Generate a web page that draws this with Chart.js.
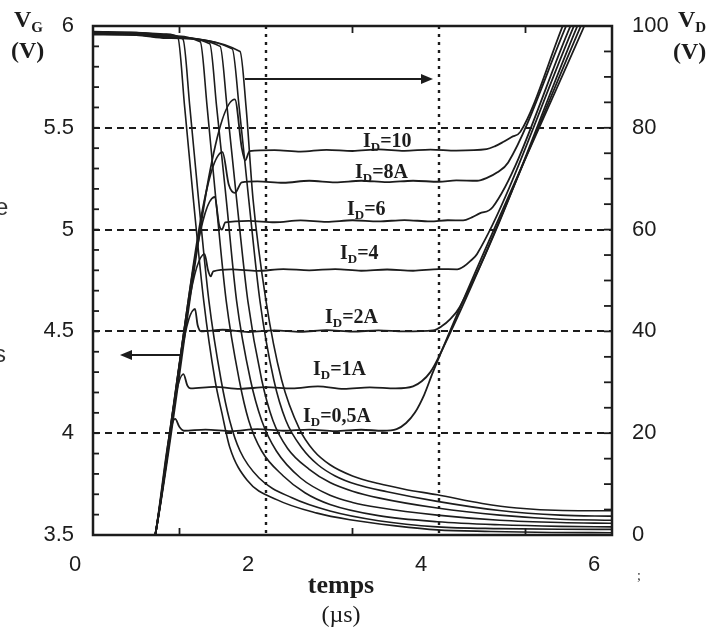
<!DOCTYPE html>
<html>
<head>
<meta charset="utf-8">
<script src="https://cdn.jsdelivr.net/npm/chart.js@4.4.1/dist/chart.umd.min.js"></script>
<style>
  html, body { margin: 0; padding: 0; background: #fff; }
  canvas { display: block; }
</style>
</head>
<body>
<canvas id="chart" width="724" height="633"></canvas>
<script>
// Valeurs (temps en µs, VG en V, VD en V)
const timeTicks = [0, 2, 4, 6];
const vgTicks = [3.5, 4, 4.5, 5, 5.5, 6];
const vdTicks = [0, 20, 40, 60, 80, 100];
const gridVG = [4, 4.5, 5, 5.5];
const gridTime = [2, 4];
const idLabels = ['=10', '=8A', '=6', '=4', '=2A', '=1A', '=0,5A'];

// Tension de grille VG
const vg05 = [[0.72,3.5],[0.95,4.07],[1.0,4.03],[1.05,4.012],[1.3,4.018],[1.6,4.01],[1.9,4.02],[2.2,4.012],[2.5,4.018],[2.8,4.01],[3.1,4.017],[3.35,4.012],[3.51,4.02],[3.62,4.05],[3.72,4.10],[3.83,4.19],[3.93,4.30],[5.68,6.0]];
const vg1  = [[0.72,3.5],[1.046,4.29],[1.09,4.235],[1.13,4.22],[1.4,4.228],[1.7,4.218],[2.0,4.226],[2.3,4.22],[2.6,4.23],[2.9,4.218],[3.2,4.225],[3.5,4.22],[3.70,4.23],[3.80,4.255],[3.90,4.30],[3.98,4.36],[5.64,6.0]];
const vg2  = [[0.72,3.5],[1.179,4.61],[1.21,4.53],[1.25,4.5],[1.5,4.508],[1.8,4.497],[2.1,4.505],[2.4,4.498],[2.7,4.506],[3.0,4.499],[3.3,4.505],[3.6,4.5],[3.93,4.505],[4.03,4.525],[4.13,4.56],[4.24,4.62],[5.60,6.0]];
const vg4  = [[0.72,3.5],[1.29,4.88],[1.33,4.80],[1.36,4.77],[1.39,4.795],[1.6,4.805],[1.9,4.797],[2.2,4.806],[2.5,4.8],[2.8,4.806],[3.1,4.798],[3.4,4.804],[3.7,4.798],[4.0,4.806],[4.21,4.805],[4.29,4.82],[4.36,4.845],[4.44,4.88],[5.56,6.0]];
const vg6  = [[0.72,3.5],[1.406,5.16],[1.46,5.02],[1.49,5.0],[1.53,5.035],[1.8,5.043],[2.1,5.036],[2.4,5.045],[2.7,5.038],[3.0,5.046],[3.3,5.04],[3.6,5.047],[3.9,5.04],[4.1,5.046],[4.28,5.045],[4.38,5.06],[4.47,5.08],[4.62,5.11],[5.52,6.0]];
const vg8  = [[0.72,3.5],[1.497,5.38],[1.57,5.22],[1.64,5.18],[1.72,5.232],[1.9,5.237],[2.2,5.23],[2.5,5.24],[2.8,5.232],[3.1,5.24],[3.4,5.233],[3.7,5.24],[4.0,5.235],[4.2,5.242],[4.44,5.24],[4.56,5.255],[4.67,5.28],[4.80,5.33],[5.47,6.0]];
const vg10 = [[0.72,3.5],[1.64,5.64],[1.72,5.40],[1.76,5.34],[1.81,5.385],[2.1,5.39],[2.4,5.383],[2.7,5.392],[3.0,5.386],[3.3,5.394],[3.6,5.387],[3.9,5.393],[4.2,5.388],[4.55,5.395],[4.65,5.41],[4.74,5.43],[4.84,5.455],[4.94,5.48],[5.43,6.0]];

// Tension de drain VD
const vd05 = [[0,98.8],[0.5,98.7],[0.85,98.4],[0.98,97.8],[1.06,84],[1.16,66],[1.28,46],[1.41,30.5],[1.49,24],[1.58,17.3],[1.78,10.8],[2.13,6.9],[2.59,4.3],[2.97,3.0],[3.5,1.8],[3.98,1.0],[4.6,0.7],[5.3,0.5],[6.0,0.45]];
const vd1  = [[0,98.9],[0.5,98.7],[0.85,98.3],[1.04,97.4],[1.12,84],[1.22,66],[1.34,46],[1.48,30.5],[1.58,22.5],[1.7,16.5],[1.92,11.2],[2.3,7.3],[2.74,4.7],[3.3,2.8],[3.98,1.6],[4.7,1.25],[5.4,1.12],[6.0,1.1]];
const vd2  = [[0,98.7],[0.5,98.6],[0.85,98.1],[1.24,96.9],[1.32,84],[1.42,66],[1.54,46],[1.69,30.5],[1.8,22.5],[1.95,16.5],[2.2,11.6],[2.45,8.3],[2.74,6.0],[3.3,3.8],[3.98,2.6],[4.7,2.0],[5.4,1.7],[6.0,1.6]];
const vd4  = [[0,98.6],[0.5,98.5],[0.85,97.9],[1.35,96.5],[1.43,84],[1.54,66],[1.66,46],[1.82,30.5],[1.95,22.5],[2.12,16.5],[2.4,11.2],[2.74,7.8],[3.0,6.4],[3.3,5.4],[3.98,3.9],[4.7,2.9],[5.4,2.45],[6.0,2.3]];
const vd6  = [[0,98.5],[0.5,98.4],[0.85,97.8],[1.47,96.0],[1.55,84],[1.66,66],[1.79,46],[1.95,30.5],[2.08,22.5],[2.25,17],[2.5,12.9],[2.74,10.3],[3.0,8.6],[3.3,7.3],[3.98,5.3],[4.7,3.9],[5.4,3.1],[6.0,2.9]];
const vd8  = [[0,98.4],[0.5,98.3],[0.85,97.7],[1.61,95.5],[1.69,84],[1.8,66],[1.93,46],[2.09,30.5],[2.23,22.5],[2.42,17],[2.6,13.8],[2.8,11.6],[3.05,9.9],[3.4,8.5],[3.98,6.6],[4.7,4.8],[5.4,3.9],[6.0,3.7]];
const vd10 = [[0,98.3],[0.5,98.2],[0.85,97.6],[1.70,95],[1.77,84],[1.85,66],[2.0,46],[2.18,30.5],[2.39,20.7],[2.55,16.6],[2.74,13.8],[3.0,11.6],[3.3,10.1],[3.6,9.0],[3.98,7.9],[4.5,6.2],[4.9,5.3],[5.43,4.8],[6.0,4.75]];

const INK = '#1c1c1c';
const SERIF = '"Liberation Serif", "Times New Roman", serif';
const SANS = '"Liberation Sans", Arial, sans-serif';

function toPoints(arr) {
    return arr.map(p => ({ x: p[0], y: p[1] }));
}

function curve(arr, axis, width) {
    return {
        data: toPoints(arr),
        yAxisID: axis,
        borderColor: INK,
        borderWidth: width,
        pointRadius: 0,
        cubicInterpolationMode: 'monotone',
        fill: false
    };
}

function line(ctx, x1, y1, x2, y2) {
    ctx.beginPath();
    ctx.moveTo(x1, y1);
    ctx.lineTo(x2, y2);
    ctx.stroke();
}

// Flèche horizontale (pointe à x2)
function arrow(ctx, x1, x2, y) {
    const dir = Math.sign(x2 - x1);
    ctx.lineWidth = 1.8;
    line(ctx, x1, y, x2 - dir * 10, y);
    ctx.beginPath();
    ctx.moveTo(x2, y);
    ctx.lineTo(x2 - dir * 12, y - 5);
    ctx.lineTo(x2 - dir * 12, y + 5);
    ctx.closePath();
    ctx.fill();
}

// Texte avec indice (I_D, V_G ...)
function subText(ctx, x, y, main, sub, rest, size, subSize) {
    ctx.font = `bold ${size}px ${SERIF}`;
    ctx.fillText(main, x, y);
    let cx = x + ctx.measureText(main).width;
    ctx.font = `bold ${subSize}px ${SERIF}`;
    ctx.fillText(sub, cx, y + Math.round(size * 0.2));
    cx += ctx.measureText(sub).width;
    if (rest) {
        ctx.font = `bold ${size}px ${SERIF}`;
        ctx.fillText(rest, cx, y);
    }
}

const bgPlugin = {
    id: 'bg',
    beforeDraw(chart) {
        const ctx = chart.ctx;
        ctx.save();
        ctx.fillStyle = '#fff';
        ctx.fillRect(0, 0, chart.width, chart.height);
        ctx.restore();
    }
};

// Grille pointillée, cadre, graduations internes, flèches et légendes
const framePlugin = {
    id: 'frame',
    beforeDatasetsDraw(chart) {
        const { ctx, chartArea: a, scales } = chart;
        ctx.save();
        ctx.strokeStyle = INK;
        ctx.lineWidth = 1.8;
        ctx.setLineDash([7, 5]);
        gridVG.forEach(v => {
            const py = Math.round(scales.yG.getPixelForValue(v));
            line(ctx, a.left, py, a.right, py);
        });
        ctx.lineWidth = 2.4;
        ctx.setLineDash([3, 5]);
        gridTime.forEach(v => {
            const px = Math.round(scales.x.getPixelForValue(v));
            line(ctx, px, a.top, px, a.bottom);
        });
        ctx.restore();
    },
    afterDatasetsDraw(chart) {
        const { ctx, chartArea: a, scales } = chart;
        ctx.save();
        ctx.strokeStyle = INK;
        ctx.fillStyle = INK;

        // graduations vers l'intérieur
        ctx.lineWidth = 1.8;
        for (let i = 1; i < 25; i++) {
            const py = scales.yG.getPixelForValue(3.5 + i * 0.1);
            line(ctx, a.left, py, a.left + 6, py);
        }
        for (let v = 5; v < 100; v += 5) {
            const py = scales.yD.getPixelForValue(v);
            line(ctx, a.right - 8, py, a.right, py);
        }
        [1, 3, 5].forEach(v => {
            const px = scales.x.getPixelForValue(v);
            line(ctx, px, a.bottom, px, a.bottom - 7);
            line(ctx, px, a.top, px, a.top + 7);
        });

        // cadre
        ctx.lineWidth = 2.5;
        ctx.strokeRect(a.left, a.top, a.right - a.left, a.bottom - a.top);

        // flèches
        arrow(ctx, 245, 433, 79);
        arrow(ctx, 182, 120, 355);

        // étiquettes des courants
        ctx.textBaseline = 'alphabetic';
        ctx.textAlign = 'left';
        const idPos = [[363, 147], [355, 178], [347, 215], [340, 259], [325, 323], [313, 375], [303, 422]];
        idLabels.forEach((txt, i) => {
            subText(ctx, idPos[i][0], idPos[i][1], 'I', 'D', txt, 20, 13);
        });

        // titres des axes
        subText(ctx, 14, 27, 'V', 'G', '', 24, 15);
        ctx.font = `bold 24px ${SERIF}`;
        ctx.fillText('(V)', 11, 58);
        subText(ctx, 678, 27, 'V', 'D', '', 24, 15);
        ctx.font = `bold 24px ${SERIF}`;
        ctx.fillText('(V)', 673, 59);

        ctx.textAlign = 'center';
        ctx.font = `bold 26px ${SERIF}`;
        ctx.fillText('temps', 341, 593);
        ctx.font = `24px ${SERIF}`;
        ctx.fillText('(µs)', 341, 622);

        // restes du texte de la page
        ctx.textAlign = 'left';
        ctx.fillStyle = '#333';
        ctx.font = `24px ${SANS}`;
        ctx.fillText('e', -5, 215);
        ctx.fillText('s', -6, 362);
        ctx.font = `14px ${SERIF}`;
        ctx.fillText(';', 637, 580);
        ctx.restore();
    }
};

const tickFont = { family: SANS, size: 22 };
const plainLabel = v => String(v);

new Chart(document.getElementById('chart').getContext('2d'), {
    type: 'line',
    data: {
        datasets: [
            curve(vd05, 'yD', 1.6), curve(vd1, 'yD', 1.6), curve(vd2, 'yD', 1.6), curve(vd4, 'yD', 1.6),
            curve(vd6, 'yD', 1.6), curve(vd8, 'yD', 1.6), curve(vd10, 'yD', 1.6),
            curve(vg05, 'yG', 1.8), curve(vg1, 'yG', 1.8), curve(vg2, 'yG', 1.8), curve(vg4, 'yG', 1.8),
            curve(vg6, 'yG', 1.8), curve(vg8, 'yG', 1.8), curve(vg10, 'yG', 1.8)
        ]
    },
    options: {
        responsive: false,
        animation: false,
        layout: { padding: { top: 26, left: 0, right: 0, bottom: 0 } },
        plugins: { legend: { display: false }, tooltip: { enabled: false } },
        scales: {
            x: {
                type: 'linear',
                min: 0,
                max: 6,
                grid: { display: false },
                border: { display: false },
                afterBuildTicks: s => { s.ticks = timeTicks.map(v => ({ value: v })); },
                afterFit: s => { s.height = 98; },
                ticks: { font: tickFont, color: INK, padding: 9, labelOffset: -18, maxRotation: 0, callback: plainLabel }
            },
            yG: {
                type: 'linear',
                position: 'left',
                min: 3.5,
                max: 6,
                grid: { display: false },
                border: { display: false },
                afterBuildTicks: s => { s.ticks = vgTicks.map(v => ({ value: v })); },
                afterFit: s => { s.width = 93; },
                ticks: { font: tickFont, color: INK, padding: 11, callback: plainLabel }
            },
            yD: {
                type: 'linear',
                position: 'right',
                min: 0,
                max: 100,
                grid: { display: false },
                border: { display: false },
                afterBuildTicks: s => { s.ticks = vdTicks.map(v => ({ value: v })); },
                afterFit: s => { s.width = 112; },
                ticks: { font: tickFont, color: INK, padding: 12, callback: plainLabel }
            }
        }
    },
    plugins: [bgPlugin, framePlugin]
});
</script>
</body>
</html>
